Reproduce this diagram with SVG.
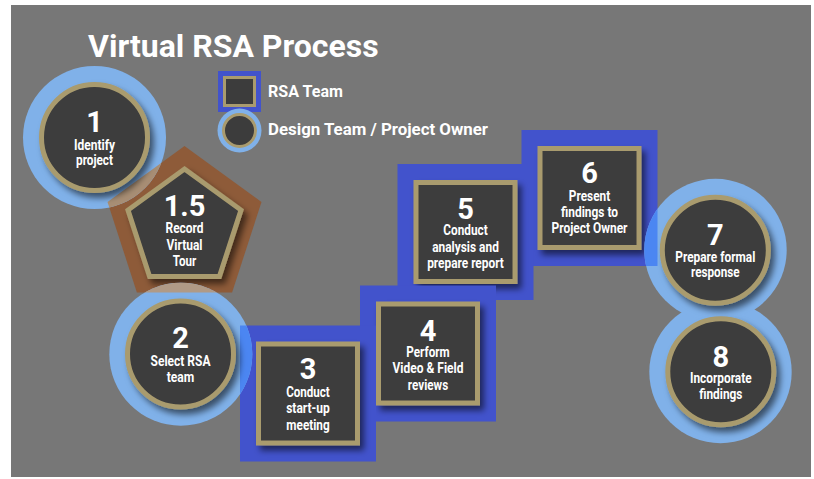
<svg xmlns="http://www.w3.org/2000/svg" width="814" height="479" viewBox="0 0 814 479">
  <defs>
    <filter id="shadow" x="-20%" y="-20%" width="150%" height="150%">
      <feDropShadow dx="4" dy="5" stdDeviation="3" flood-color="#000" flood-opacity="0.55"/>
    </filter>
    <clipPath id="clip-pent">
      <polygon points="184.5,146 261.5,202 232.1,292.5 136.9,292.5 107.5,202"/>
    </clipPath>
    <clipPath id="clip-box3">
      <rect x="240" y="325.5" width="136" height="136"/>
    </clipPath>
    <clipPath id="clip-box6">
      <rect x="521.5" y="130" width="136" height="136"/>
    </clipPath>
    <mask id="mask-core8">
      <rect x="0" y="0" width="814" height="479" fill="#fff"/>
      <circle cx="720.8" cy="371.7" r="60" fill="#000"/>
    </mask>
    <style>
      .halo { fill: #80b1e9; }
      .team { fill: #4253cc; }
      .core { fill: #3c3c3c; stroke: #a99b6e; stroke-width: 5; filter: url(#shadow); }
      .num { font-family: Roboto, "Liberation Sans", sans-serif; font-weight: bold; font-size: 29px; fill: #fff; text-anchor: middle; }
      .lbl { font-family: Roboto, "Liberation Sans", sans-serif; font-weight: bold; font-size: 14px; fill: #fff; text-anchor: middle; }
      .legend { font-family: Roboto, "Liberation Sans", sans-serif; font-weight: bold; font-size: 16px; fill: #fff; }
      .title { font-family: Roboto, "Liberation Sans", sans-serif; font-weight: bold; font-size: 32px; fill: #fff; }
    </style>
  </defs>

  <!-- canvas -->
  <rect x="0" y="0" width="814" height="479" fill="#fff"/>
  <rect x="11" y="5" width="800" height="472" fill="#777"/>

  <!-- step 1.5: recorded tour -->
  <g id="node-1-5">
    <polygon points="184.5,146 261.5,202 232.1,292.5 136.9,292.5 107.5,202" fill="#8e5b39"/>
    <polygon class="core" points="184.5,169.1 241,210.1 219.4,276.6 149.6,276.6 128,210.1"/>
    <text class="num" x="184.5" y="215.5">1.5</text>
    <text class="lbl" x="184.5" y="233.3" textLength="38" lengthAdjust="spacingAndGlyphs">Record</text>
    <text class="lbl" x="184.5" y="250" textLength="36" lengthAdjust="spacingAndGlyphs">Virtual</text>
    <text class="lbl" x="184.5" y="265.7" textLength="23.5" lengthAdjust="spacingAndGlyphs">Tour</text>
  </g>

  <!-- RSA team steps -->
  <g id="node-6">
    <rect class="team" x="521.5" y="130" width="136" height="136"/>
    <rect class="core" x="540" y="148.5" width="99" height="99"/>
    <text class="num" x="589.5" y="183">6</text>
    <text class="lbl" x="589.5" y="200.7" textLength="41.3" lengthAdjust="spacingAndGlyphs">Present</text>
    <text class="lbl" x="589.5" y="216.7" textLength="57" lengthAdjust="spacingAndGlyphs">findings to</text>
    <text class="lbl" x="589.5" y="233.3" textLength="76" lengthAdjust="spacingAndGlyphs">Project Owner</text>
  </g>

  <g id="node-5">
    <rect class="team" x="397.5" y="164" width="136" height="136"/>
    <rect class="core" x="416" y="182.5" width="99" height="99"/>
    <text class="num" x="465.5" y="218.5">5</text>
    <text class="lbl" x="465.5" y="234.5" textLength="44.3" lengthAdjust="spacingAndGlyphs">Conduct</text>
    <text class="lbl" x="465.5" y="251.7" textLength="66.7" lengthAdjust="spacingAndGlyphs">analysis and</text>
    <text class="lbl" x="465.5" y="267.7" textLength="76.7" lengthAdjust="spacingAndGlyphs">prepare report</text>
  </g>

  <g id="node-4">
    <rect class="team" x="360" y="285.5" width="136" height="136"/>
    <rect class="core" x="378.5" y="304" width="99" height="99"/>
    <text class="num" x="428" y="341">4</text>
    <text class="lbl" x="428" y="356.8" textLength="43.3" lengthAdjust="spacingAndGlyphs">Perform</text>
    <text class="lbl" x="428" y="373.3" textLength="71" lengthAdjust="spacingAndGlyphs">Video &amp; Field</text>
    <text class="lbl" x="428" y="390" textLength="40.3" lengthAdjust="spacingAndGlyphs">reviews</text>
  </g>

  <g id="node-3">
    <rect class="team" x="240" y="325.5" width="136" height="136"/>
    <rect class="core" x="258.5" y="344" width="99" height="99"/>
    <text class="num" x="308" y="379">3</text>
    <text class="lbl" x="308" y="396.7" textLength="43.6" lengthAdjust="spacingAndGlyphs">Conduct</text>
    <text class="lbl" x="308" y="413.3" textLength="43.6" lengthAdjust="spacingAndGlyphs">start-up</text>
    <text class="lbl" x="308" y="430" textLength="43.3" lengthAdjust="spacingAndGlyphs">meeting</text>
  </g>

  <!-- design team / project owner steps -->
  <g id="node-1">
    <circle class="halo" cx="94.5" cy="137.5" r="71.5"/>
    <circle cx="94.5" cy="137.5" r="71.5" fill="#a88e74" clip-path="url(#clip-pent)"/>
    <circle class="core" cx="94.5" cy="137.5" r="53"/>
    <text class="num" x="94.5" y="132">1</text>
    <text class="lbl" x="94.5" y="149.5" textLength="41" lengthAdjust="spacingAndGlyphs">Identify</text>
    <text class="lbl" x="94.5" y="164.5" textLength="37" lengthAdjust="spacingAndGlyphs">project</text>
  </g>

  <g id="node-2">
    <circle class="halo" cx="180.8" cy="354.2" r="71.5"/>
    <circle cx="180.8" cy="354.2" r="71.5" fill="#b09a86" clip-path="url(#clip-pent)"/>
    <circle cx="180.8" cy="354.2" r="71.5" fill="#4b86f2" clip-path="url(#clip-box3)"/>
    <circle class="core" cx="180.5" cy="354" r="53"/>
    <text class="num" x="180.5" y="348.3">2</text>
    <text class="lbl" x="180.5" y="366" textLength="60" lengthAdjust="spacingAndGlyphs">Select RSA</text>
    <text class="lbl" x="180.5" y="381.7" textLength="27.6" lengthAdjust="spacingAndGlyphs">team</text>
  </g>

  <g id="node-8">
    <circle class="halo" cx="720.5" cy="372" r="71.2"/>
    <circle class="core" cx="720.8" cy="371.7" r="53"/>
    <text class="num" x="720.8" y="366.7">8</text>
    <text class="lbl" x="720.8" y="383.3" textLength="61.7" lengthAdjust="spacingAndGlyphs">Incorporate</text>
    <text class="lbl" x="720.8" y="399.3" textLength="43.3" lengthAdjust="spacingAndGlyphs">findings</text>
  </g>

  <g id="node-7">
    <circle class="halo" cx="715.5" cy="250" r="71.2" mask="url(#mask-core8)"/>
    <circle cx="715.5" cy="250" r="71.2" fill="#4b86f2" clip-path="url(#clip-box6)"/>
    <circle class="core" cx="715.3" cy="250.3" r="53"/>
    <text class="num" x="715.3" y="245">7</text>
    <text class="lbl" x="715.3" y="261.7" textLength="80" lengthAdjust="spacingAndGlyphs">Prepare formal</text>
    <text class="lbl" x="715.3" y="277.3" textLength="48.7" lengthAdjust="spacingAndGlyphs">response</text>
  </g>

  <!-- legend -->
  <g id="legend-rsa-team">
    <rect class="team" x="218" y="71" width="43" height="41"/>
    <rect x="224.5" y="77.5" width="30" height="28" fill="#3c3c3c" stroke="#a99b6e" stroke-width="3"/>
    <text class="legend" x="268" y="97" textLength="75" lengthAdjust="spacingAndGlyphs">RSA Team</text>
  </g>
  <g id="legend-design-team">
    <circle class="halo" cx="239.5" cy="130.5" r="22"/>
    <circle cx="239.5" cy="130.5" r="16" fill="#3c3c3c" stroke="#a99b6e" stroke-width="3"/>
    <text class="legend" x="268" y="135" textLength="220" lengthAdjust="spacingAndGlyphs">Design Team / Project Owner</text>
  </g>

  <!-- title -->
  <text class="title" x="88" y="57">Virtual RSA Process</text>

  <!-- steps are laid out by position; no connector lines are drawn -->
  <g id="connectors"/>
</svg>
